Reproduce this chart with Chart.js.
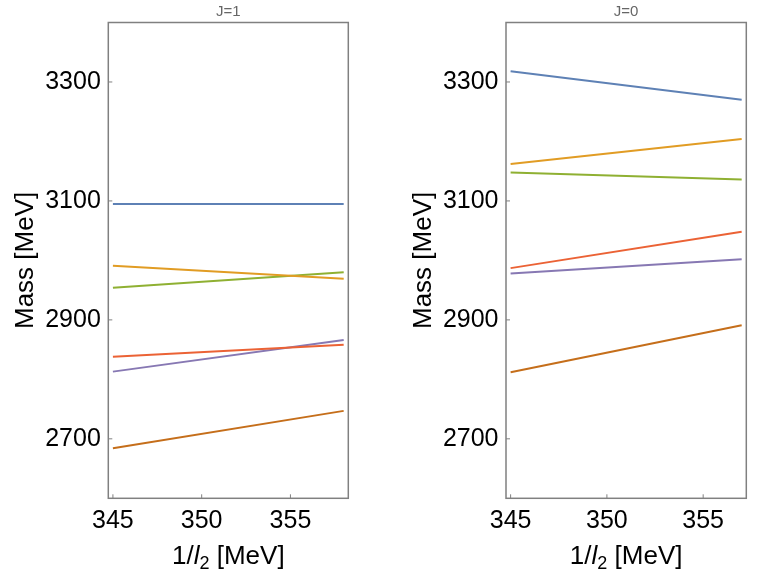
<!DOCTYPE html>
<html>
<head>
<meta charset="utf-8">
<script src="https://cdn.jsdelivr.net/npm/chart.js@4"></script>
<style>
html,body{margin:0;padding:0;background:#fff;}
body{width:763px;height:572px;position:relative;overflow:hidden;}
.box{position:absolute;top:0;height:572px;}
#b1{left:0;width:380px;}
#b2{left:380px;width:383px;}
</style>
</head>
<body>
<div class="box" id="b1"><canvas id="c1"></canvas></div>
<div class="box" id="b2"><canvas id="c2"></canvas></div>
<script>
// ---- data ----
const xTicks = [345, 350, 355];
const yTicks = [2700, 2900, 3100, 3300];
const seriesColors = ['#5E81B5', '#E19C24', '#8FB032', '#EB6235', '#8778B3', '#C56E1A'];

const j1X = [345, 358];
const j1S1 = [3095, 3095];
const j1S2 = [2991, 2969];
const j1S3 = [2954, 2980];
const j1S4 = [2838, 2858];
const j1S5 = [2813, 2866];
const j1S6 = [2684, 2747];

const j0X = [345, 357];
const j0S1 = [3318, 3270];
const j0S2 = [3162, 3204];
const j0S3 = [3148, 3136];
const j0S4 = [2987, 3048];
const j0S5 = [2978, 3002];
const j0S6 = [2812, 2891];

const FONT = '"Liberation Sans", Arial, Helvetica, sans-serif';

function makeDatasets(xs, list) {
  return list.map((ys, i) => ({
    data: xs.map((x, k) => ({x: x, y: ys[k]})),
    borderColor: seriesColors[i],
    borderWidth: 2,
    pointRadius: 0,
    fill: false,
    tension: 0
  }));
}

const framePlugin = {
  id: 'frame',
  afterDraw(chart, args, opts) {
    const ctx = chart.ctx;
    const a = chart.chartArea;
    ctx.save();
    // frame
    ctx.strokeStyle = '#808080';
    ctx.lineWidth = 1.5;
    ctx.strokeRect(a.left, a.top, a.right - a.left, a.bottom - a.top);
    // inward ticks left and bottom
    ctx.lineWidth = 1;
    ctx.beginPath();
    yTicks.forEach(v => {
      const py = chart.scales.y.getPixelForValue(v);
      ctx.moveTo(a.left, py); ctx.lineTo(a.left + 4, py);
    });
    xTicks.forEach(v => {
      const px = chart.scales.x.getPixelForValue(v);
      ctx.moveTo(px, a.bottom); ctx.lineTo(px, a.bottom - 4);
    });
    ctx.stroke();
    // panel title
    const cx = (a.left + a.right) / 2;
    ctx.fillStyle = '#666666';
    ctx.font = '15px ' + FONT;
    ctx.textAlign = 'center';
    ctx.textBaseline = 'alphabetic';
    ctx.fillText(opts.title, cx, 15.5);
    // y axis title
    ctx.save();
    ctx.translate(a.left - 75, (a.top + a.bottom) / 2);
    ctx.rotate(-Math.PI / 2);
    ctx.fillStyle = '#000';
    ctx.font = '26px ' + FONT;
    ctx.textAlign = 'center';
    ctx.fillText('Mass [MeV]', 0, 0);
    ctx.restore();
    // x axis title: 1/l_2 [MeV]
    const parts = [
      {t: '1/', f: '26px ' + FONT, dy: 0},
      {t: 'l', f: 'italic 26px ' + FONT, dy: 0},
      {t: '2', f: '18px ' + FONT, dy: 5},
      {t: ' [MeV]', f: '26px ' + FONT, dy: 0}
    ];
    let w = 0;
    parts.forEach(p => { ctx.font = p.f; p.w = ctx.measureText(p.t).width; w += p.w; });
    let x = cx - w / 2;
    ctx.fillStyle = '#000';
    ctx.textAlign = 'left';
    parts.forEach(p => { ctx.font = p.f; ctx.fillText(p.t, x, 563.5 + p.dy); x += p.w; });
    ctx.restore();
  }
};

function makeChart(id, xs, list, xmin, xmax, leftW, rightPad, title) {
  return new Chart(document.getElementById(id), {
    type: 'line',
    data: {datasets: makeDatasets(xs, list)},
    options: {
      responsive: true,
      maintainAspectRatio: false,
      animation: false,
      layout: {padding: {left: 0, right: rightPad, top: 19, bottom: 0}},
      plugins: {legend: {display: false}, tooltip: {enabled: false}, frame: {title: title}},
      scales: {
        x: {
          type: 'linear', min: xmin, max: xmax,
          grid: {display: false, drawTicks: false},
          border: {display: false},
          afterBuildTicks: s => { s.ticks = xTicks.map(v => ({value: v})); },
          afterFit: s => { s.height = 572 - 498.3; },
          ticks: {color: '#000', font: {family: FONT, size: 25}, padding: 8, maxRotation: 0, autoSkip: false,
                  callback: v => String(v)}
        },
        y: {
          type: 'linear', min: 2600, max: 3400,
          grid: {display: false, drawTicks: false},
          border: {display: false},
          afterBuildTicks: s => { s.ticks = yTicks.map(v => ({value: v})); },
          afterFit: s => { s.width = leftW; },
          ticks: {color: '#000', font: {family: FONT, size: 25}, padding: 7.5, autoSkip: false,
                  callback: v => String(v)}
        }
      }
    },
    plugins: [framePlugin]
  });
}

makeChart('c1', j1X, [j1S1, j1S2, j1S3, j1S4, j1S5, j1S6], 344.74, 358.26, 108.3, 380 - 348.3, 'J=1');
makeChart('c2', j0X, [j0S1, j0S2, j0S3, j0S4, j0S5, j0S6], 344.76, 357.24, 126, 383 - 366.3, 'J=0');
</script>
</body>
</html>
